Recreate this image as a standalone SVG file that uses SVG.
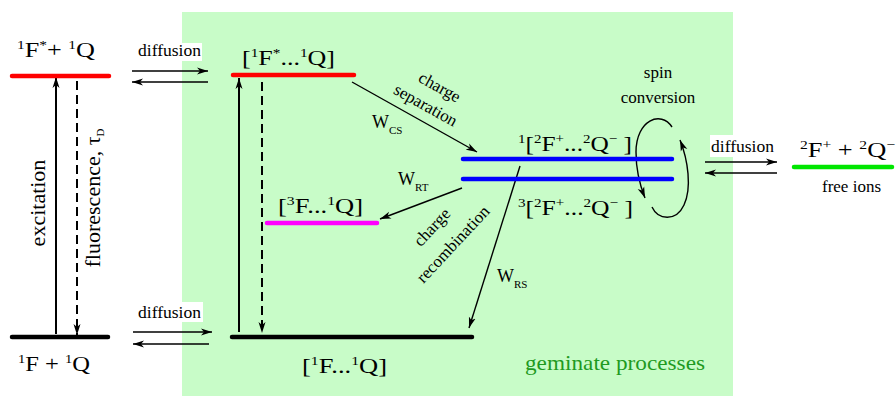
<svg xmlns="http://www.w3.org/2000/svg" width="896" height="396" viewBox="0 0 896 396">
<defs>
<marker id="ah" markerWidth="12" markerHeight="8" refX="11" refY="4" orient="auto" markerUnits="userSpaceOnUse">
<path d="M0,0.5 L11,4 L0,7.5 L3,4 z" fill="#000"/>
</marker>
<style>
.big{font-family:"Liberation Serif","DejaVu Serif",serif;font-size:22px;fill:#000}
.lbl{font-family:"Liberation Serif","DejaVu Serif",serif;font-size:17px;fill:#000}
.w{font-family:"Liberation Serif","DejaVu Serif",serif;font-size:18px;fill:#000}
.sup{font-size:13px}
.sub{font-size:11px}
.lvl{stroke-width:4.5;stroke-linecap:round;fill:none}
.arr{stroke:#000;stroke-width:1.4;fill:none;marker-end:url(#ah)}
.varr{stroke:#000;stroke-width:2;fill:none;marker-end:url(#ah)}
.dash{stroke-dasharray:9,5}
.wbg{fill:#fff}
</style>
</defs>
<rect id="geminate-region" x="182" y="12" width="551" height="384" fill="#c8fcc8"/>
<text x="525" y="370" style="font-family:'Liberation Serif','DejaVu Serif',serif;font-size:22px" fill="#1f9a1f" textLength="180" lengthAdjust="spacingAndGlyphs">geminate processes</text>

<g id="connectors">
  <rect class="wbg" x="137" y="43" width="65" height="18"/>
  <text class="lbl" x="138" y="56" textLength="63" lengthAdjust="spacingAndGlyphs">diffusion</text>
  <line class="arr" x1="132" y1="71" x2="208" y2="71"/>
  <line class="arr" x1="208" y1="82" x2="132" y2="82"/>
  <rect class="wbg" x="137" y="302" width="66" height="20"/>
  <text class="lbl" x="138" y="318" textLength="63" lengthAdjust="spacingAndGlyphs">diffusion</text>
  <line class="arr" x1="133" y1="332" x2="212" y2="332"/>
  <line class="arr" x1="209" y1="344" x2="133" y2="344"/>
  <rect class="wbg" x="710" y="135" width="65" height="22"/>
  <text class="lbl" x="711" y="152" textLength="63" lengthAdjust="spacingAndGlyphs">diffusion</text>
  <line class="arr" x1="705" y1="162" x2="777" y2="162"/>
  <line class="arr" x1="777" y1="173" x2="705" y2="173"/>
  <line class="varr" x1="56" y1="334" x2="56" y2="77"/>
  <line class="varr dash" x1="77" y1="81" x2="77" y2="335"/>
  <text class="big" font-size="21" text-anchor="middle" transform="translate(45,203) rotate(-90)">excitation</text>
  <text class="big" font-size="20" text-anchor="middle" transform="translate(100,198) rotate(-90)">fluorescence, τ<tspan class="sub" dy="4">D</tspan></text>
  <line class="varr" x1="239" y1="332" x2="239" y2="78"/>
  <line class="varr dash" x1="262" y1="82" x2="262" y2="333"/>
  <line class="arr" x1="352" y1="82" x2="477" y2="152"/>
  <text class="lbl" text-anchor="middle" transform="translate(437,92) rotate(29)">charge</text>
  <text class="lbl" text-anchor="middle" transform="translate(423,110) rotate(29)">separation</text>
  <text class="w" x="372" y="128">W<tspan class="sub" dy="6">CS</tspan></text>
  <line class="arr" x1="462" y1="188" x2="380" y2="219"/>
  <text class="w" x="398" y="185">W<tspan class="sub" dy="6">RT</tspan></text>
  <line class="arr" x1="520" y1="166" x2="469" y2="328"/>
  <text class="w" x="497" y="282">W<tspan class="sub" dy="6">RS</tspan></text>
  <text class="lbl" text-anchor="middle" transform="translate(436,231) rotate(-47)">charge</text>
  <text class="lbl" text-anchor="middle" transform="translate(457,248) rotate(-47)">recombination</text>
  <path class="arr" d="M672,127 C661,110 636,120 636,152 C636,172 641,188 645,198"/>
  <path class="arr" d="M652,207 C658,220 676,222 684,205 C692,188 688,160 680,140"/>
  <text class="lbl" text-anchor="middle" x="658" y="78">spin</text>
  <text class="lbl" text-anchor="middle" x="658" y="103">conversion</text>
</g>

<g id="excited-free">
  <line class="lvl" stroke="#ff0000" x1="12" y1="76" x2="109" y2="76"/>
  <text class="big" x="17" y="57" textLength="78" lengthAdjust="spacingAndGlyphs"><tspan class="sup" dy="-8">1</tspan><tspan dy="8">F</tspan><tspan class="sup" dy="-8">*</tspan><tspan dy="8">+ </tspan><tspan class="sup" dy="-8">1</tspan><tspan dy="8">Q</tspan></text>
</g>
<g id="ground-free">
  <line class="lvl" stroke="#000" x1="12" y1="337" x2="108" y2="337"/>
  <text class="big" x="18" y="371" textLength="72" lengthAdjust="spacingAndGlyphs"><tspan class="sup" dy="-8">1</tspan><tspan dy="8">F + </tspan><tspan class="sup" dy="-8">1</tspan><tspan dy="8">Q</tspan></text>
</g>
<g id="excited-pair">
  <line class="lvl" stroke="#ff0000" x1="233" y1="75" x2="354" y2="75"/>
  <text class="big" x="242" y="65" textLength="93" lengthAdjust="spacingAndGlyphs">[<tspan class="sup" dy="-8">1</tspan><tspan dy="8">F</tspan><tspan class="sup" dy="-8">*</tspan><tspan dy="8">...</tspan><tspan class="sup" dy="-8">1</tspan><tspan dy="8">Q]</tspan></text>
</g>
<g id="singlet-ion-pair">
  <line class="lvl" stroke="#0000ff" x1="463" y1="159" x2="672" y2="159"/>
  <text class="big" x="518" y="151" textLength="114" lengthAdjust="spacingAndGlyphs"><tspan class="sup" dy="-8">1</tspan><tspan dy="8">[</tspan><tspan class="sup" dy="-8">2</tspan><tspan dy="8">F</tspan><tspan class="sup" dy="-8">+</tspan><tspan dy="8">...</tspan><tspan class="sup" dy="-8">2</tspan><tspan dy="8">Q</tspan><tspan class="sup" dy="-8">−</tspan><tspan dy="8"> ]</tspan></text>
</g>
<g id="triplet-ion-pair">
  <line class="lvl" stroke="#0000ff" x1="463" y1="179" x2="672" y2="179"/>
  <text class="big" x="518" y="215" textLength="115" lengthAdjust="spacingAndGlyphs"><tspan class="sup" dy="-8">3</tspan><tspan dy="8">[</tspan><tspan class="sup" dy="-8">2</tspan><tspan dy="8">F</tspan><tspan class="sup" dy="-8">+</tspan><tspan dy="8">...</tspan><tspan class="sup" dy="-8">2</tspan><tspan dy="8">Q</tspan><tspan class="sup" dy="-8">−</tspan><tspan dy="8"> ]</tspan></text>
</g>
<g id="triplet-pair">
  <line class="lvl" stroke="#ff00ff" x1="267" y1="223" x2="377" y2="223"/>
  <text class="big" x="278" y="213" textLength="85" lengthAdjust="spacingAndGlyphs">[<tspan class="sup" dy="-8">3</tspan><tspan dy="8">F...</tspan><tspan class="sup" dy="-8">1</tspan><tspan dy="8">Q]</tspan></text>
</g>
<g id="ground-pair">
  <line class="lvl" stroke="#000" x1="232" y1="337" x2="472" y2="337"/>
  <text class="big" x="302" y="373" textLength="85" lengthAdjust="spacingAndGlyphs">[<tspan class="sup" dy="-8">1</tspan><tspan dy="8">F...</tspan><tspan class="sup" dy="-8">1</tspan><tspan dy="8">Q]</tspan></text>
</g>
<g id="free-ions">
  <line class="lvl" stroke="#00e600" x1="794" y1="167" x2="892" y2="167"/>
  <text class="big" x="800" y="157" textLength="95" lengthAdjust="spacingAndGlyphs"><tspan class="sup" dy="-8">2</tspan><tspan dy="8">F</tspan><tspan class="sup" dy="-8">+</tspan><tspan dy="8"> + </tspan><tspan class="sup" dy="-8">2</tspan><tspan dy="8">Q</tspan><tspan class="sup" dy="-8">−</tspan></text>
  <text class="lbl" x="822" y="192">free ions</text>
</g>
</svg>
